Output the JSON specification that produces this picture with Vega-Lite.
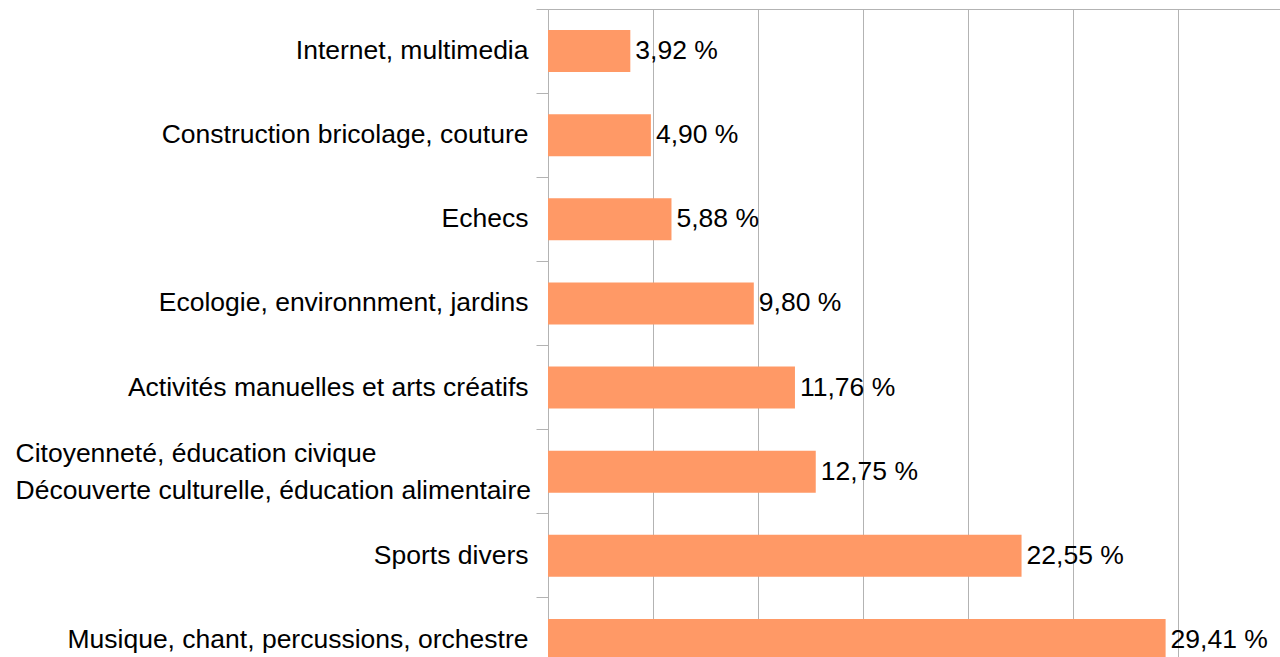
{
  "$schema": "https://vega.github.io/schema/vega-lite/v6.json",
  "autosize": "none",
  "padding": {"left": 548, "top": 9, "right": 0, "bottom": 0},
  "width": 732,
  "height": 673,
  "data": {
    "values": [
      {"cat": "Internet, multimedia", "pct": 3.92},
      {"cat": "Construction bricolage, couture", "pct": 4.90},
      {"cat": "Echecs", "pct": 5.88},
      {"cat": "Ecologie, environnment, jardins", "pct": 9.80},
      {"cat": "Activités manuelles et arts créatifs", "pct": 11.76},
      {"cat": "Citoyenneté, éducation civique|Découverte culturelle, éducation alimentaire", "pct": 12.75},
      {"cat": "Sports divers", "pct": 22.55},
      {"cat": "Musique, chant, percussions, orchestre", "pct": 29.41}
    ]
  },
  "transform": [
    {"calculate": "replace(format(datum.pct, '.2f'), '.', ',') + ' %'", "as": "label"}
  ],
  "encoding": {
    "y": {
      "field": "cat",
      "type": "nominal",
      "sort": null,
      "scale": {"paddingInner": 0, "paddingOuter": 0},
      "axis": {
        "title": null,
        "domainColor": "#b3b3b3",
        "domainWidth": 1,
        "tickColor": "#b3b3b3",
        "tickWidth": 1,
        "tickSize": 12,
        "bandPosition": 0,
        "labelFont": "Liberation Sans Narrow, Liberation Sans, Arial, sans-serif",
        "labelFontSize": 26.5,
        "labelColor": "#000000",
        "labelLimit": 0,
        "labelLineHeight": 37,
        "labelBaseline": "middle",
        "labelExpr": "split(datum.label, '|')",
        "labelAlign": {"condition": {"test": "indexof(datum.value, '|') >= 0", "value": "left"}, "value": "right"},
        "labelPadding": {"condition": {"test": "indexof(datum.value, '|') >= 0", "value": 521}, "value": 8},
        "labelOffset": {"condition": {"test": "indexof(datum.value, '|') >= 0", "value": -18}, "value": 0}
      }
    },
    "x": {
      "field": "pct",
      "type": "quantitative",
      "scale": {"domain": [0, 34.857], "nice": false, "zero": true},
      "axis": {
        "orient": "top",
        "title": null,
        "labels": false,
        "ticks": false,
        "domain": true,
        "domainColor": "#b3b3b3",
        "grid": true,
        "gridColor": "#b3b3b3",
        "gridWidth": 1,
        "values": [0, 5, 10, 15, 20, 25, 30]
      }
    }
  },
  "layer": [
    {
      "mark": {"type": "bar", "color": "#ff9966", "height": {"band": 0.5}}
    },
    {
      "mark": {"type": "text", "align": "left", "baseline": "middle", "dx": 5, "font": "Liberation Sans Narrow, Liberation Sans, Arial, sans-serif", "fontSize": 26.5, "color": "#000000"},
      "encoding": {
        "text": {"field": "label"}
      }
    }
  ],
  "config": {"view": {"stroke": null}}
}
